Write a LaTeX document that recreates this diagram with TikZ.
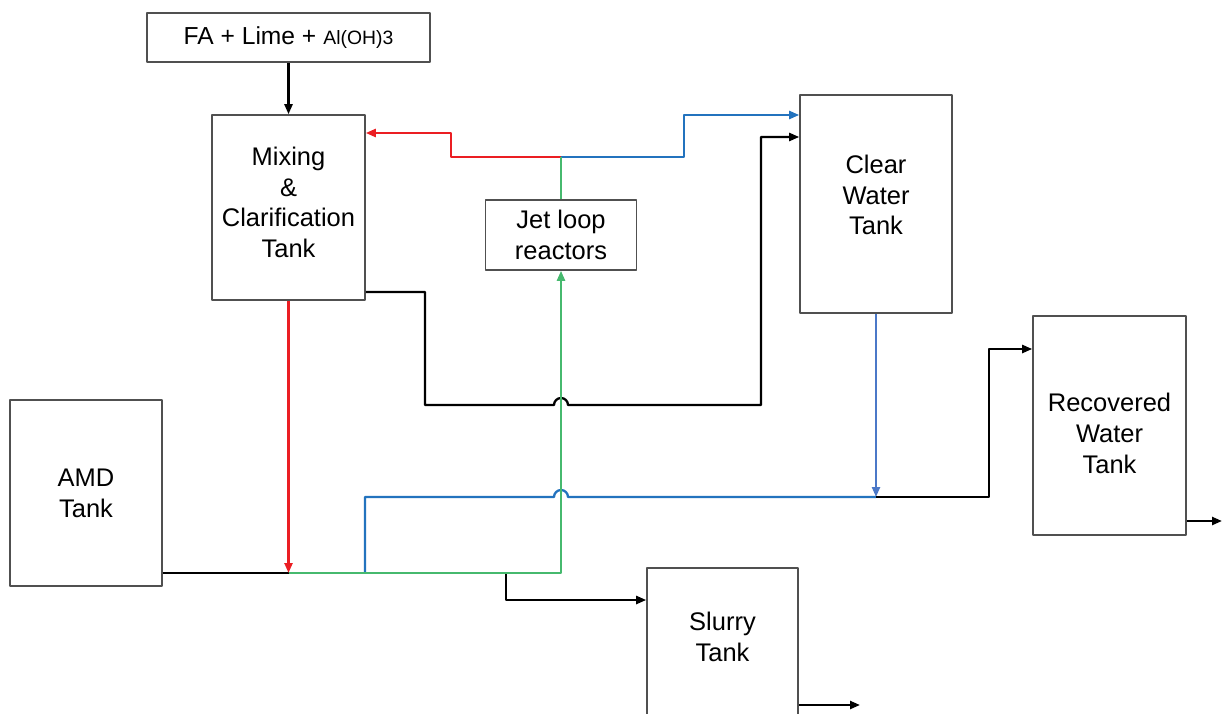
\documentclass[tikz,border=0pt]{standalone}
\usepackage{fontspec}
\setmainfont{Liberation Sans}
\usepackage{xcolor}
\usepackage{tikz}
\usetikzlibrary{arrows.meta,calc}

\definecolor{flowred}{RGB}{235,30,35}
\definecolor{flowblue}{RGB}{35,115,190}
\definecolor{flowgreen}{RGB}{70,185,110}
\definecolor{dropblue}{RGB}{75,120,200}
\definecolor{tankline}{RGB}{80,80,80}

\begin{document}
\begin{tikzpicture}[>={Triangle[length=2mm,width=1.6mm]},line join=round,
  tank/.style={draw=tankline,line width=0.9pt,fill=white,align=center,inner sep=0pt,font=\fontsize{14.5}{17.5}\selectfont},
  tanktext/.style={align=center,inner sep=0pt,font=\fontsize{14.5}{17.5}\selectfont},
  pipe/.style={line width=1.3pt}]
  \useasboundingbox (0,0) rectangle (24.48,-14.26);
  \clip (0,0) rectangle (24.48,-14.26);
  % tanks
  \node[tank,minimum width=5.66cm,minimum height=0.98cm] (feed) at (5.77,-0.75) {{\fontsize{14}{17}\selectfont FA + Lime +} {\fontsize{11}{13}\selectfont Al(OH)3}};
  \node[tank,minimum width=3.06cm,minimum height=3.70cm,label={[tanktext,yshift=0.1cm]center:Mixing\\\&\\Clarification\\Tank}] (mix) at (5.77,-4.15) {};
  \node[tank,minimum width=3.02cm,minimum height=1.40cm] (jet) at (11.22,-4.70) {Jet loop\\reactors};
  \node[tank,minimum width=3.04cm,minimum height=4.36cm,label={[tanktext,yshift=0.18cm]center:Clear\\Water\\Tank}] (clear) at (17.52,-4.08) {};
  \node[tank,minimum width=3.06cm,minimum height=4.38cm,label={[tanktext,yshift=-0.16cm]center:Recovered\\Water\\Tank}] (rec) at (22.19,-8.51) {};
  \node[tank,minimum width=3.04cm,minimum height=3.72cm] (amd) at (1.72,-9.86) {AMD\\Tank};
  \node[tank,minimum width=3.02cm,minimum height=3.60cm,anchor=north] (slurry) at (14.45,-11.34) {};
  \node[tanktext] (slurrytxt) at (14.45,-12.74) {Slurry\\Tank};
  % bends and junctions
  \coordinate (split) at (11.22,-3.14);
  \coordinate (r1) at (9.02,-3.14);
  \coordinate (r2) at (9.02,-2.66);
  \coordinate (b1) at (13.68,-3.14);
  \coordinate (b2) at (13.68,-2.30);
  \coordinate (k1) at (8.50,-5.84);
  \coordinate (k2) at (8.50,-8.10);
  \coordinate (k3) at (15.22,-8.10);
  \coordinate (k4) at (15.22,-2.74);
  \coordinate (j1) at (5.77,-11.46);
  \coordinate (j2) at (7.30,-11.46);
  \coordinate (j3) at (10.12,-11.46);
  \coordinate (w1) at (7.30,-9.94);
  \coordinate (j4) at (17.52,-9.94);
  \coordinate (w2) at (19.78,-9.94);
  \coordinate (w3) at (19.78,-6.98);
  \coordinate (s1) at (10.12,-12.00);
  \coordinate (slurryout) at (17.20,-14.10);
  \coordinate (recout) at (24.44,-10.42);
  % flows
  \draw[pipe,->] (feed.south) -- (mix.north);
  \draw[pipe,flowred,->] (split) -- (r1) -- (r2) -- (mix.east |- r2);
  \draw[pipe,flowblue,->] (split) -- (b1) -- (b2) -- (clear.west |- b2);
  \draw[pipe,->] (mix.east |- k1) -- (k1) -- (k2) -- ($(jet.south |- k2)+(-0.14,0)$) arc[start angle=180,end angle=0,radius=0.14] -- (k3) -- (k4) -- (clear.west |- k4);
  \draw[pipe] (amd.east |- j1) -- (j1);
  \draw[pipe,flowblue] (j2) -- (w1) -- ($(jet.south |- w1)+(-0.14,0)$) arc[start angle=180,end angle=0,radius=0.14] -- (j4);
  \draw[pipe,dropblue,->] (clear.south) -- (j4);
  \draw[pipe,->] (j4) -- (w2) -- (w3) -- (rec.west |- w3);
  \draw[pipe,->] (j3) -- (s1) -- (slurry.west |- s1);
  \draw[pipe,->] (slurry.east |- slurryout) -- (slurryout);
  \draw[pipe,->] (rec.east |- recout) -- (recout);
  \draw[pipe,flowgreen,->] (j1) -- (jet.south |- j1) -- (jet.south);
  \draw[pipe,flowgreen] (jet.north) -- (split);
  \draw[pipe,flowred,->] (mix.south) -- (j1);
\end{tikzpicture}
\end{document}
